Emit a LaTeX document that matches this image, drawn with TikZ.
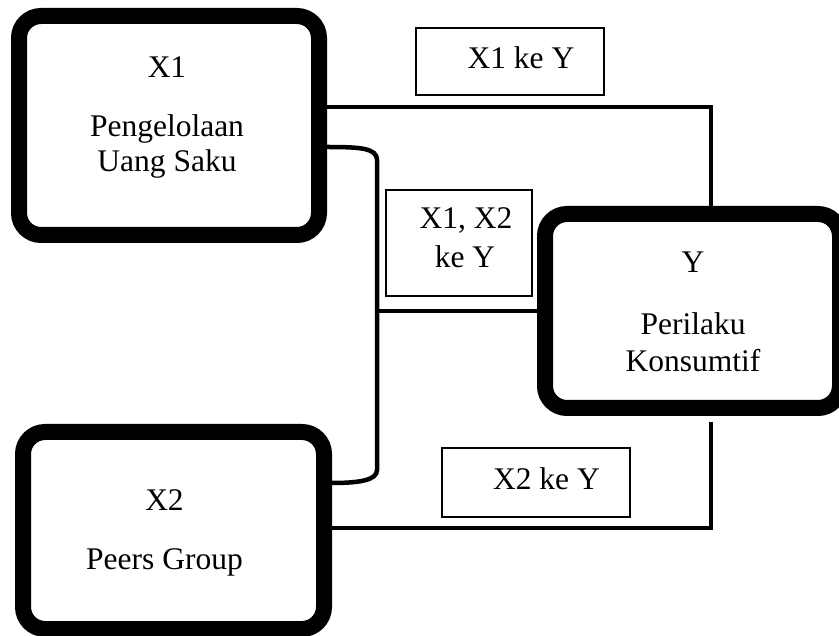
\documentclass[tikz,border=0pt]{standalone}
\usepackage{fontspec}
\setmainfont{Liberation Serif}
\tikzset{
  varbox/.style={draw,line width=16pt,rounded corners=22pt,fill=white},
  vartext/.style={align=center,inner sep=0pt,anchor=north,font=\fontsize{31.5}{35}\selectfont},
  labbox/.style={draw,line width=2pt,fill=white,inner sep=0pt,font=\fontsize{31.5}{35}\selectfont},
  link/.style={line width=4.5pt}
}
\begin{document}
\begin{tikzpicture}[x=1pt,y=-1pt]
\useasboundingbox (0,0) rectangle (839,636);
% variabel
\node[varbox,minimum width=300pt,minimum height=219pt] (x1) at (169,125.5) {};
\node[varbox,minimum width=301pt,minimum height=197pt] (x2) at (173.5,530.5) {};
\node[varbox,minimum width=295pt,minimum height=194pt] (y) at (692.5,311) {};
\node[vartext] (x1t) at (167,56.7) {X1\\[24pt]Pengelolaan\\Uang Saku};
\node[vartext] (x2t) at (164.5,489.7) {X2\\[24pt]Peers Group};
\node[vartext] (yt) at (693,252) {Y\\[27pt]Perilaku\\[2pt]Konsumtif};

% label hubungan
\node[labbox,minimum width=188pt,minimum height=67pt,text depth=8pt] (l1) at (510,61.5) {\hspace*{22pt}X1 ke Y};
\node[labbox,minimum width=146pt,minimum height=106pt,align=center,text depth=10pt] (l12) at (459,243) {\hspace*{14pt}X1, X2\\[4pt]\hspace*{12pt}ke Y};
\node[labbox,minimum width=188pt,minimum height=69pt,text depth=8pt] (l2) at (536,482.5) {\hspace*{21pt}X2 ke Y};

% garis
\coordinate (t1) at (711,107);
\coordinate (t2) at (711,422);
\coordinate (bt) at (377,160);
\coordinate (bb) at (377,470);
\draw[link] (x1.east |- t1) -| (y.north -| t1);
\draw[link] (x2.east |- 0,528) -| (t2);
\draw[link] (x1.east |- 0,147) .. controls (360,147) and (377,148) .. (bt) -- (bb)
  .. controls (377,480) and (360,483) .. (x2.east |- 0,483);
\draw[link] (bt |- y.west) -- (y.west);
\end{tikzpicture}
\end{document}
